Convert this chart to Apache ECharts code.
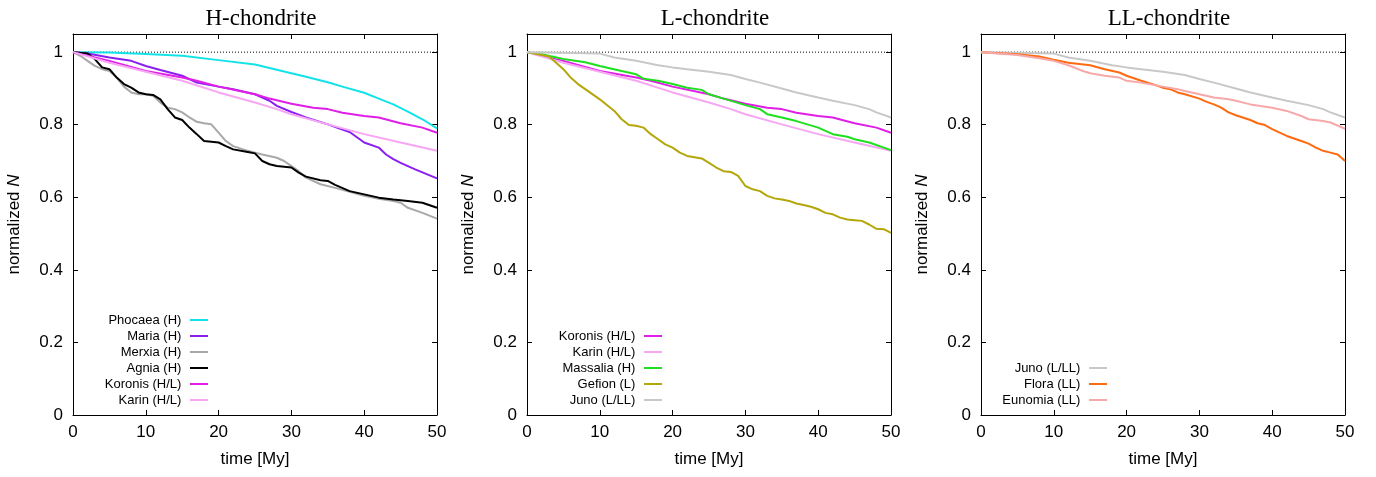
<!DOCTYPE html>
<html><head><meta charset="utf-8">
<script src="https://cdn.jsdelivr.net/npm/echarts@6/dist/echarts.min.js"></script>
<style>html,body{margin:0;padding:0;background:#fff}#c{width:1376px;height:477px}</style>
</head><body><div id="c"></div>
<script>
// ---- data (time [My], normalized N) ----
const panelTitles = ['H-chondrite', 'L-chondrite', 'LL-chondrite'];
const xTicks = [0, 10, 20, 30, 40, 50];
const yTicks = [0, 0.2, 0.4, 0.6, 0.8, 1];

const phocaea = [[0,1],[5,0.999],[10,0.995],[15,0.99],[20,0.978],[25,0.966],[30,0.942],[32,0.932],[35,0.917],[37,0.905],[40,0.888],[42,0.872],[44,0.856],[46,0.836],[48,0.815],[50,0.79]];
const maria = [[0,1],[2,0.996],[5,0.985],[8,0.976],[10,0.962],[12,0.951],[15,0.935],[17,0.916],[20,0.905],[22,0.898],[25,0.884],[27,0.866],[28,0.852],[30,0.835],[32,0.82],[35,0.801],[37,0.787],[38,0.78],[40,0.751],[42,0.737],[43,0.718],[44,0.705],[45,0.695],[47,0.677],[50,0.652]];
const merxia = [[0,1],[1,0.99],[2,0.976],[3,0.962],[4,0.953],[5,0.948],[6,0.93],[7,0.905],[8,0.889],[9,0.884],[10,0.884],[11,0.88],[12,0.861],[13,0.847],[14,0.843],[15,0.834],[16,0.82],[17,0.808],[18,0.804],[19,0.801],[20,0.778],[21,0.755],[22,0.741],[24,0.728],[25,0.723],[26,0.718],[28,0.709],[29,0.7],[30,0.686],[31,0.672],[32,0.654],[34,0.636],[36,0.626],[38,0.615],[40,0.604],[42,0.596],[44,0.59],[45,0.585],[46,0.571],[48,0.557],[50,0.541]];
const agnia = [[0,1],[2,0.996],[3,0.981],[4,0.958],[5,0.953],[6,0.93],[7,0.912],[8,0.902],[9,0.889],[10,0.884],[11,0.882],[12,0.87],[13,0.843],[14,0.82],[15,0.813],[16,0.792],[17,0.774],[18,0.755],[20,0.751],[21,0.741],[22,0.732],[24,0.725],[25,0.721],[26,0.7],[27,0.691],[28,0.686],[30,0.682],[31,0.668],[32,0.657],[34,0.647],[35,0.645],[36,0.634],[38,0.617],[40,0.608],[42,0.599],[44,0.594],[46,0.59],[48,0.585],[50,0.571]];
const koronis = [[0,1],[5,0.976],[10,0.948],[15,0.93],[17,0.921],[20,0.905],[25,0.884],[27,0.872],[30,0.858],[33,0.847],[35,0.843],[37,0.833],[40,0.824],[42,0.82],[45,0.804],[48,0.792],[50,0.778]];
const karin = [[0,1],[5,0.971],[10,0.946],[15,0.921],[20,0.889],[25,0.861],[28,0.843],[30,0.829],[35,0.801],[40,0.774],[45,0.751],[50,0.728]];
const massalia = [[0,1],[2,0.994],[5,0.981],[8,0.972],[10,0.962],[13,0.948],[15,0.939],[16,0.927],[18,0.921],[20,0.912],[22,0.902],[24,0.896],[25,0.884],[27,0.872],[30,0.854],[32,0.843],[33,0.829],[35,0.82],[37,0.81],[40,0.792],[42,0.774],[44,0.767],[45,0.76],[47,0.751],[50,0.73]];
const gefion = [[0,1],[2,0.992],[3,0.988],[4,0.971],[5,0.953],[6,0.93],[7,0.912],[8,0.898],[10,0.87],[12,0.838],[13,0.815],[14,0.799],[15,0.797],[16,0.792],[17,0.774],[18,0.76],[19,0.746],[20,0.737],[21,0.723],[22,0.714],[24,0.707],[25,0.695],[26,0.682],[27,0.672],[28,0.67],[29,0.659],[30,0.631],[31,0.622],[32,0.617],[33,0.604],[34,0.597],[35,0.594],[36,0.59],[37,0.583],[38,0.579],[39,0.574],[40,0.567],[41,0.557],[42,0.553],[43,0.544],[44,0.539],[45,0.537],[46,0.535],[47,0.525],[48,0.513],[49,0.512],[50,0.502]];
const juno = [[0,1],[10,0.996],[12,0.985],[15,0.976],[18,0.964],[20,0.958],[22,0.953],[25,0.946],[28,0.937],[30,0.926],[32,0.916],[35,0.9],[37,0.889],[40,0.875],[42,0.866],[45,0.854],[47,0.843],[48,0.834],[50,0.82]];
const flora = [[0,1],[5,0.994],[8,0.988],[10,0.979],[12,0.971],[15,0.964],[17,0.953],[19,0.944],[20,0.935],[22,0.921],[24,0.909],[25,0.902],[26,0.898],[27,0.889],[28,0.884],[30,0.872],[31,0.863],[32,0.856],[33,0.847],[34,0.834],[35,0.826],[37,0.813],[38,0.804],[39,0.799],[40,0.788],[42,0.769],[44,0.755],[45,0.748],[46,0.737],[47,0.728],[48,0.723],[49,0.718],[50,0.7]];
const eunomia = [[0,1],[5,0.992],[8,0.983],[10,0.976],[12,0.964],[14,0.948],[15,0.942],[17,0.935],[19,0.93],[20,0.921],[22,0.916],[25,0.905],[27,0.898],[28,0.893],[30,0.884],[32,0.875],[34,0.87],[35,0.866],[37,0.856],[40,0.847],[42,0.838],[44,0.824],[45,0.815],[47,0.81],[48,0.806],[50,0.789]];
const reference = [[0,1],[50,1]];

// ---- styles ----
const C = {
  'Phocaea (H)': '#12e3e8', 'Maria (H)': '#8b1ef0', 'Merxia (H)': '#a8a8a8', 'Agnia (H)': '#000000',
  'Koronis (H/L)': '#e01ee8', 'Karin (H/L)': '#f7a6f3', 'Massalia (H)': '#1ee01e', 'Gefion (L)': '#b3a70a',
  'Juno (L/LL)': '#c8c8c8', 'Flora (LL)': '#ff6a10', 'Eunomia (LL)': '#f7a8a8'
};
const panels = [
  [['Phocaea (H)', phocaea], ['Maria (H)', maria], ['Merxia (H)', merxia], ['Agnia (H)', agnia], ['Koronis (H/L)', koronis], ['Karin (H/L)', karin]],
  [['Koronis (H/L)', koronis], ['Karin (H/L)', karin], ['Massalia (H)', massalia], ['Gefion (L)', gefion], ['Juno (L/LL)', juno]],
  [['Juno (L/LL)', juno], ['Flora (LL)', flora], ['Eunomia (LL)', eunomia]]
];
const gridLefts = [73, 527, 981];
const gridW = 364, gridTop = 34, gridH = 381;
const legendTops = [312, 328, 360];
const legendRights = [1168, 714, 269];
const sans = 'Liberation Sans';

const option = { animation: false, backgroundColor: '#fff', title: [], grid: [], xAxis: [], yAxis: [], series: [], legend: [] };

panels.forEach((list, i) => {
  option.title.push({ text: panelTitles[i], left: gridLefts[i] + gridW / 2 + 1, top: 2, textAlign: 'center',
    textStyle: { fontFamily: 'Liberation Serif', fontSize: 23, fontWeight: 'normal', color: '#000' } });
  option.grid.push({ left: gridLefts[i], top: gridTop, width: gridW, height: gridH });
  const axLine = { show: true, onZero: false, lineStyle: { color: '#000', width: 1 } };
  const tick = { show: true, inside: true, length: 5, lineStyle: { color: '#000', width: 1 } };
  option.xAxis.push({ type: 'value', gridIndex: i, min: 0, max: 50, interval: 10, position: 'bottom',
    axisLine: axLine, axisTick: tick, splitLine: { show: false },
    axisLabel: { margin: 9, fontFamily: sans, fontSize: 17, color: '#000' },
    name: 'time [My]', nameLocation: 'middle', nameGap: 36,
    nameTextStyle: { fontFamily: sans, fontSize: 17, color: '#000' } });
  option.xAxis.push({ type: 'value', gridIndex: i, min: 0, max: 50, interval: 10, position: 'top',
    axisLine: axLine, axisTick: tick, splitLine: { show: false }, axisLabel: { show: false } });
  option.yAxis.push({ type: 'value', gridIndex: i, min: 0, max: 1.05, interval: 0.2, position: 'left',
    axisLine: axLine, axisTick: tick, splitLine: { show: false },
    axisLabel: { margin: 10, fontFamily: sans, fontSize: 17, color: '#000', showMaxLabel: false,
      formatter: v => (v > 1.001 ? '' : String(Math.round(v * 10) / 10)) },
    name: 'normalized {i|N}', nameLocation: 'middle', nameGap: 50,
    nameTextStyle: { fontFamily: sans, fontSize: 17, color: '#000',
      rich: { i: { fontFamily: sans, fontSize: 17, fontStyle: 'italic', color: '#000' } } } });
  option.yAxis.push({ type: 'value', gridIndex: i, min: 0, max: 1.05, interval: 0.2, position: 'right',
    axisLine: axLine, axisTick: tick, splitLine: { show: false }, axisLabel: { show: false } });

  option.series.push({ type: 'line', xAxisIndex: 2 * i, yAxisIndex: 2 * i, data: reference, symbol: 'none',
    silent: true, z: 1, lineStyle: { color: '#000', width: 1, type: [1, 2] } });
  list.forEach(([name, data]) => {
    option.series.push({ type: 'line', name, xAxisIndex: 2 * i, yAxisIndex: 2 * i, data, symbol: 'none',
      showSymbol: false, color: C[name], lineStyle: { color: C[name], width: 2 } });
  });
  option.legend.push({ orient: 'vertical', right: legendRights[i], top: legendTops[i], padding: 0,
    align: 'right', itemWidth: 18, itemHeight: 2, itemGap: 0, selectedMode: false,
    icon: 'path://M0,0L18,0L18,2L0,2Z',
    data: list.map(d => ({ name: d[0], itemStyle: { color: C[d[0]] } })), formatter: '{name} ',
    textStyle: { fontFamily: sans, fontSize: 13, lineHeight: 16, color: '#000' } });
});

const chart = echarts.init(document.getElementById('c'), null, { renderer: 'canvas' });
chart.setOption(option);
</script>
</body></html>
